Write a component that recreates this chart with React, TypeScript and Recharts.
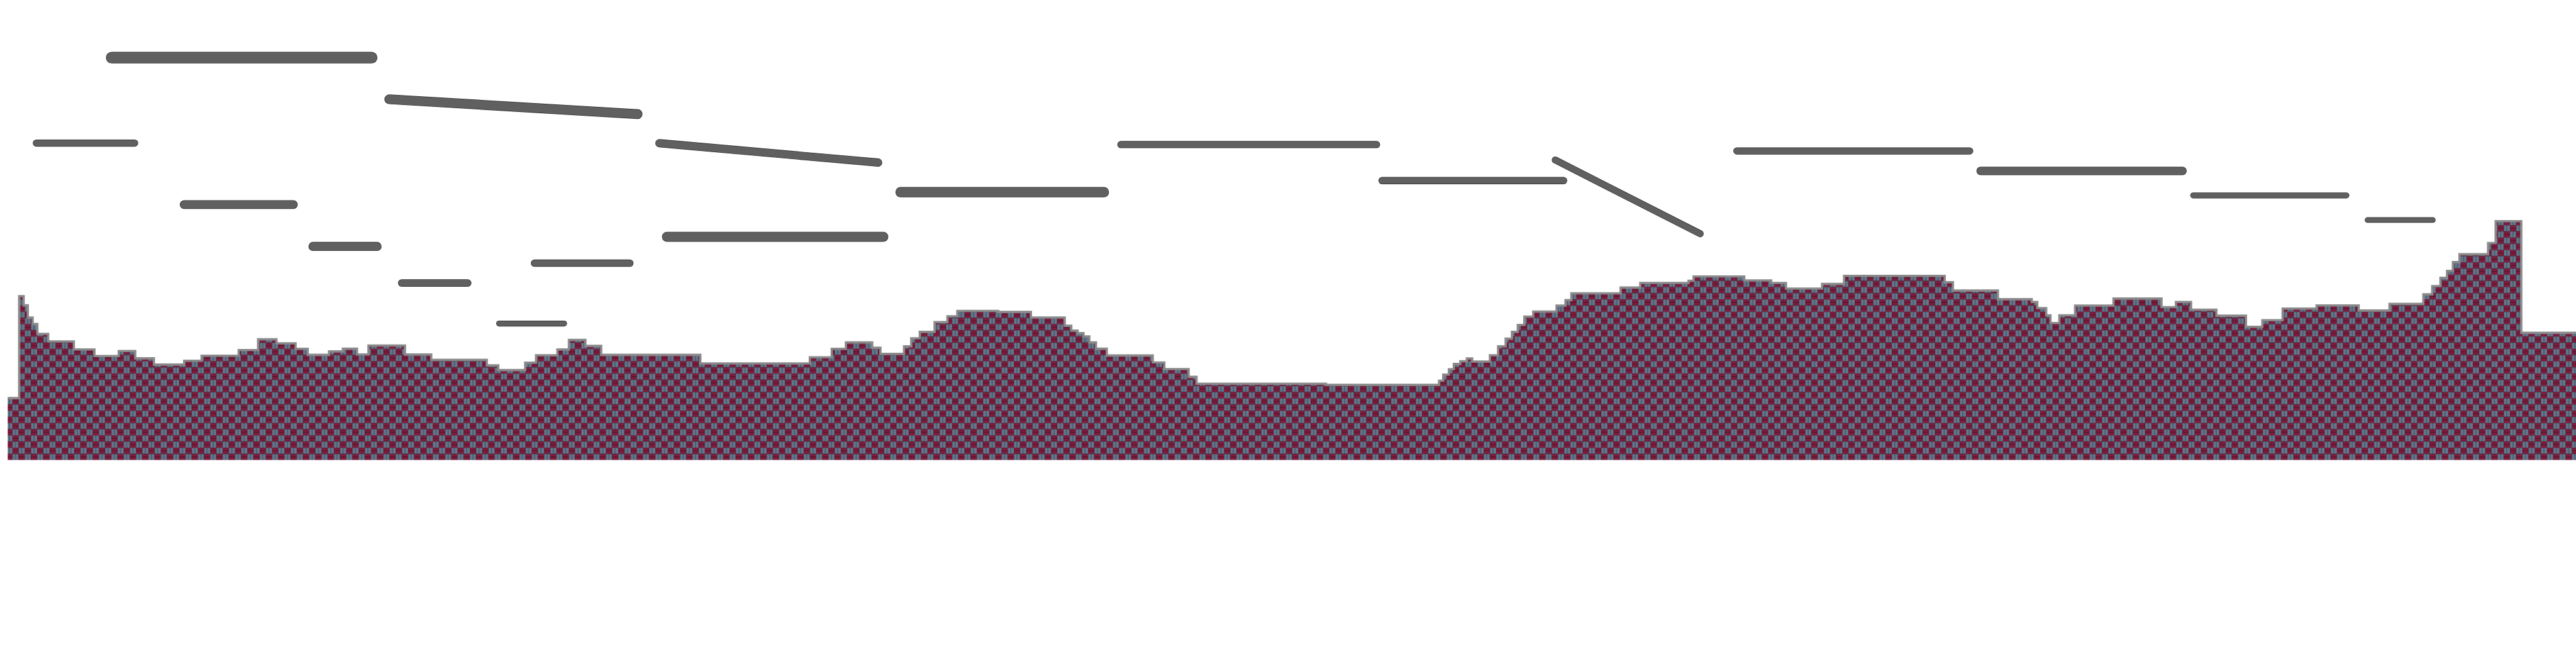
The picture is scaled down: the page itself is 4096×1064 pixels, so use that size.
import React from 'react';
import { ComposedChart, Area, Line, XAxis, YAxis } from 'recharts';

// stepped profile: where each level starts, and the level
const stepX = [
  2.4, 5.95, 7.35, 8.64, 10.15, 11.6, 14.97, 22.94, 29.34, 36.87, 42.0, 47.8, 57.2, 62.6, 74.13,
  80.15, 85.87, 91.8, 95.57, 102.2, 106.47, 110.87, 114.43, 125.77, 133.93, 151.18, 154.75, 163.1,
  166.47, 173.1, 176.68, 181.8, 186.7, 217.5, 251.5, 258.3, 262.7, 270.87, 273.43, 280.76, 283.0,
  285.65, 290.25, 294.23, 297.3, 310.0, 320.16, 330.67, 332.7, 334.65, 336.49, 338.3, 340.36,
  343.73, 358.0, 361.6, 369.14, 371.6, 411.8, 446.9, 448.2, 449.95, 451.5, 453.5, 455.55, 457.2,
  462.7, 465.25, 467.6, 469.54, 471.37, 473.4, 476.16, 483.4, 486.17, 488.0, 503.3, 509.4, 524.4,
  525.96, 541.69, 550.06, 554.65, 565.86, 572.7, 603.94, 606.5, 620.46, 630.96, 632.7, 635.47,
  636.8, 639.55, 644.43, 656.37, 671.28, 675.76, 680.46, 688.32, 697.5, 702.6, 708.9, 719.43,
  732.5, 742.08, 752.6, 755.35, 757.9, 759.95, 761.78, 763.82, 772.7, 775.05, 783.0, 800,
];
const stepLevel = [
  19.25, 50.9, 48.05, 44.25, 42.25, 39.2, 36.85, 34.35, 32.3, 33.87, 31.6, 29.64, 30.83, 32.4, 34.15,
  37.5, 36.25, 34.54, 32.68, 33.75, 34.58, 32.8, 35.57, 32.76, 31.1, 29.4, 27.94, 30.23,
  32.56, 34.34, 37.3, 35.45, 32.68, 30.0, 31.9, 34.54, 36.52, 34.86, 32.96, 35.33, 37.82,
  39.8, 42.85, 44.66, 46.33, 46.0, 44.27, 41.7, 40.2, 39.4, 38.42, 36.52, 34.58,
  32.48, 30.3, 28.25, 25.84, 23.7, 23.35, 24.65, 26.55, 28.2, 29.84, 30.7, 31.57, 30.6,
  32.56, 35.33, 37.7, 39.8, 41.97, 44.55, 46.13, 47.98, 49.7, 51.78, 53.56, 55.02, 55.7,
  57.0, 55.8, 55.02, 53.25, 54.7, 57.2, 55.22, 52.65, 49.96, 49.1, 47.2, 44.94,
  42.57, 44.94, 47.98, 50.16, 47.5, 49.1, 46.72, 44.82, 41.38, 43.44, 47.04, 48.02,
  46.44, 48.5, 51.46, 54.03, 56.6, 58.78, 61.47, 63.92, 67.4, 74.2, 39.5, 39.8,
];

// floating segments: start / end
const segX1 = [11.3, 34.7, 57.2, 97.2, 120.9, 124.75, 155.0, 166.0, 204.8, 207.15, 279.7, 348.1, 429.2, 483.0, 539.4, 615.1, 681.1, 735.25];
const segY1 = [98.45, 125.0, 79.35, 66.35, 112.06, 55.0, 42.4, 61.15, 98.4, 69.35, 83.2, 98.0, 86.8, 93.2, 96.0, 89.8, 82.2, 74.55];
const segX2 = [41.8, 115.4, 91.1, 117.1, 198.0, 145.25, 175.2, 195.6, 272.7, 274.3, 342.8, 427.5, 485.6, 528.0, 611.7, 677.8, 728.7, 755.55];
const segY2 = [98.45, 125.0, 79.35, 66.35, 107.46, 55.0, 42.4, 61.15, 92.4, 69.35, 83.2, 98.0, 86.8, 70.3, 96.0, 89.8, 82.2, 74.55];
const segThickness = [11.3, 18.4, 13.8, 14.3, 15.4, 11.8, 9.2, 11.5, 13, 15.9, 16.4, 11.3, 11.3, 11, 11.3, 13.3, 9.2, 8.7];

const W = 4096;
const H = 1064;
const BASE = 731.65;
const CELL = 9.83;
const RED = '#801b3e';
const GRAY = '#65778c';

const areaData = stepX.map((x, i) => ({ x, v: stepLevel[i] }));

export default function App() {
  return (
    <div style={{ position: 'absolute', left: 0, top: 0, background: '#fff' }}>
      <ComposedChart width={W} height={H} margin={{ top: 0, right: 0, bottom: H - BASE, left: 0 }}>
        <defs>
          <pattern id="weave" patternUnits="userSpaceOnUse" x={0} y={BASE} width={CELL * 2} height={CELL * 2}>
            <rect x={0} y={0} width={CELL} height={CELL} fill={RED} />
            <rect x={CELL} y={0} width={CELL} height={CELL} fill={GRAY} />
            <rect x={0} y={CELL} width={CELL} height={CELL} fill={GRAY} />
            <rect x={CELL} y={CELL} width={CELL} height={CELL} fill={RED} />
            <line x1={0} y1={CELL / 2} x2={CELL} y2={CELL / 2} stroke="#2a0a16" strokeWidth={0.7} />
            <line x1={CELL} y1={CELL * 1.5} x2={CELL * 2} y2={CELL * 1.5} stroke="#2a0a16" strokeWidth={0.7} />
            <line x1={CELL * 1.5} y1={0} x2={CELL * 1.5} y2={CELL} stroke="#26303c" strokeWidth={0.7} />
            <line x1={CELL / 2} y1={CELL} x2={CELL / 2} y2={CELL * 2} stroke="#26303c" strokeWidth={0.7} />
            <path d={`M0 0H${CELL * 2}M0 ${CELL}H${CELL * 2}M0 0V${CELL * 2}M${CELL} 0V${CELL * 2}`} stroke="#1e1e1e" strokeWidth={0.5} />
          </pattern>
        </defs>
        <XAxis type="number" dataKey="x" domain={[0, 800]} hide allowDataOverflow />
        <YAxis type="number" domain={[0, 142.9]} hide allowDataOverflow />
        <Area
          data={areaData}
          type="stepAfter"
          dataKey="v"
          stroke="#8a8a8a"
          strokeWidth={3.6}
          fill="url(#weave)"
          fillOpacity={1}
          dot={false}
          activeDot={false}
          isAnimationActive={false}
        />
        {segX1.map((x1, i) => {
          const d = [
            { x: x1, y: segY1[i] },
            { x: segX2[i], y: segY2[i] },
          ];
          return [
            <Line
              key={`o${i}`}
              data={d}
              dataKey="y"
              stroke="#262626"
              strokeWidth={segThickness[i]}
              strokeLinecap="round"
              dot={false}
              activeDot={false}
              isAnimationActive={false}
            />,
            <Line
              key={`i${i}`}
              data={d}
              dataKey="y"
              stroke="#606060"
              strokeWidth={segThickness[i] - 1.4}
              strokeLinecap="round"
              dot={false}
              activeDot={false}
              isAnimationActive={false}
            />,
          ];
        })}
      </ComposedChart>
    </div>
  );
}
